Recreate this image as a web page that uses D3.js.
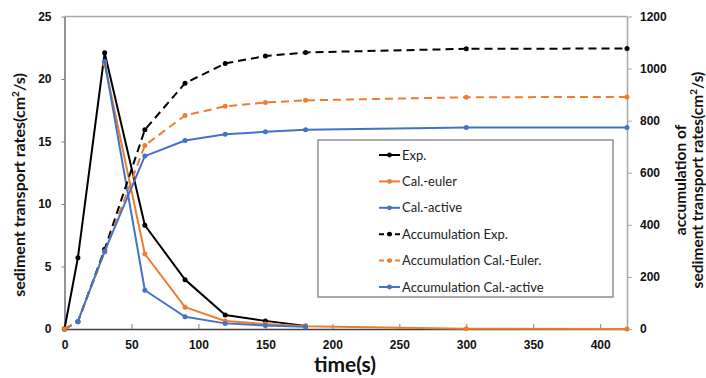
<!DOCTYPE html>
<html><head><meta charset="utf-8">
<script src="https://cdn.jsdelivr.net/npm/d3@7/dist/d3.min.js"></script>
<style>body{margin:0;background:#fff;} svg{display:block;font-family:Lato,"Open Sans",sans-serif;}</style>
</head><body><svg id="c" width="706" height="378"></svg>
<script>
const timeAll = [0, 10, 30, 60, 90, 120, 150, 180, 300, 420];
const expTime = [0, 10, 30, 60, 90, 120, 150, 180];
const expRate = [0, 5.7, 22.1, 8.3, 3.95, 1.12, 0.65, 0.25];
const eulerTime = [30, 60, 90, 120, 150, 180, 300, 420];
const eulerRate = [21.2, 6.0, 1.75, 0.64, 0.4, 0.22, 0.02, 0.0];
const activeTime = [30, 60, 90, 120, 150, 180];
const activeRate = [21.4, 3.1, 0.98, 0.45, 0.28, 0.17];
const accExp = [0, 28, 306, 765, 944, 1020, 1048, 1062, 1076, 1077];
const accEuler = [0, 29, 296, 705, 820, 855, 870, 878, 890, 891];
const accActiveTime = [10, 30, 60, 90, 120, 150, 180, 300, 420];
const accActive = [29, 299, 664, 724, 748, 757, 765, 774, 774];
const xTicks = [0, 50, 100, 150, 200, 250, 300, 350, 400];
const yLeftTicks = [0, 5, 10, 15, 20, 25];
const yRightTicks = [0, 200, 400, 600, 800, 1000, 1200];
const legendLabels = ["Exp.", "Cal.-euler", "Cal.-active", "Accumulation Exp.", "Accumulation Cal.-Euler.", "Accumulation Cal.-active"];

const svg = d3.select("#c");
const L = 64.5, R = 627, T = 16.5, B = 329;
const x = d3.scaleLinear().domain([0, 420]).range([L, R]);
const yL = d3.scaleLinear().domain([0, 25]).range([B, T]);
const yR = d3.scaleLinear().domain([0, 1200]).range([B, T]);

const black = "#000000", orange = "#ED7D31", blue = "#4472C4";

// frame
svg.append("line").attr("x1", L).attr("x2", R).attr("y1", T).attr("y2", T).attr("stroke", "#a6a6a6").attr("stroke-width", 1.3);

// axes
const gx = svg.append("g").attr("transform", `translate(0,${B})`)
  .call(d3.axisBottom(x).tickValues(xTicks).tickSizeInner(-5).tickSizeOuter(0).tickPadding(11));
gx.select(".domain").attr("stroke", "#404040").attr("stroke-width", 1.3);
gx.selectAll(".tick line").attr("stroke", "#808080");
gx.selectAll("text").attr("font-size", 12).attr("font-weight", "bold").attr("fill", "#111");

const gl = svg.append("g").attr("transform", `translate(${L},0)`)
  .call(d3.axisLeft(yL).tickValues(yLeftTicks).tickSizeInner(3).tickSizeOuter(0).tickPadding(10));
gl.select(".domain").attr("stroke", "#595959").attr("stroke-width", 1.3);
gl.selectAll(".tick line").attr("stroke", "#808080");
gl.selectAll("text").attr("font-size", 12).attr("font-weight", "bold").attr("fill", "#111");

const gr = svg.append("g").attr("transform", `translate(${R},0)`)
  .call(d3.axisRight(yR).tickValues(yRightTicks).tickFormat(d3.format("d")).tickSizeInner(5).tickSizeOuter(0).tickPadding(8));
gr.select(".domain").attr("stroke", "#a6a6a6").attr("stroke-width", 1.5);
gr.selectAll(".tick line").attr("stroke", "#a6a6a6");
gr.selectAll("text").attr("font-size", 12).attr("font-weight", "bold").attr("fill", "#111");

// series
function series(xs, ys, yScale, color, dash) {
  const pts = xs.map((t, i) => [t, ys[i]]);
  const line = d3.line().x(d => x(d[0])).y(d => yScale(d[1]));
  svg.append("path").datum(pts).attr("d", line).attr("fill", "none")
    .attr("stroke", color).attr("stroke-width", 2).attr("stroke-dasharray", dash || null)
    .attr("stroke-linejoin", "round");
  svg.append("g").selectAll("circle").data(pts).join("circle")
    .attr("cx", d => x(d[0])).attr("cy", d => yScale(d[1])).attr("r", 2.5).attr("fill", color);
}
series(expTime, expRate, yL, black);
series(eulerTime, eulerRate, yL, orange);
series(activeTime, activeRate, yL, blue);
series(timeAll, accExp, yR, black, "8,5");
series(timeAll, accEuler, yR, orange, "8,5");
series(accActiveTime, accActive, yR, blue);

// legend
const lg = svg.append("g");
lg.append("rect").attr("x", 318).attr("y", 140).attr("width", 295).attr("height", 157)
  .attr("fill", "#fff").attr("stroke", "#7f7f7f").attr("stroke-width", 1.3);
const lColors = [black, orange, blue, black, orange, blue];
const lDash = [null, null, null, "5,3", "5,3", null];
legendLabels.forEach((lab, i) => {
  const yy = 155 + i * 26.4;
  lg.append("line").attr("x1", 379).attr("x2", 400).attr("y1", yy).attr("y2", yy)
    .attr("stroke", lColors[i]).attr("stroke-width", 2).attr("stroke-dasharray", lDash[i]);
  lg.append("circle").attr("cx", 389.5).attr("cy", yy).attr("r", 2.4).attr("fill", lColors[i]);
  lg.append("text").attr("x", 402).attr("y", yy).attr("dy", "0.35em").attr("font-size", 13)
    .attr("fill", "#222").text(lab);
});

// titles
svg.append("text").attr("x", 345).attr("y", 372).attr("text-anchor", "middle")
  .attr("font-size", 21).attr("font-weight", "bold").attr("fill", "#111").text("time(s)");
svg.append("text").attr("transform", "translate(25,185) rotate(-90)").attr("text-anchor", "middle")
  .attr("font-size", 16).attr("font-weight", "bold").attr("fill", "#111")
  .html('sediment transport rates(cm<tspan baseline-shift="super" font-size="10">2</tspan>/s)');
const rt = svg.append("text").attr("transform", "translate(686,180) rotate(-90)").attr("text-anchor", "middle")
  .attr("font-size", 15.5).attr("font-weight", "bold").attr("fill", "#111");
rt.append("tspan").attr("x", 0).attr("y", 0).text("accumulation of");
rt.append("tspan").attr("x", 0).attr("y", 16.5).html('sediment transport rates(cm<tspan baseline-shift="super" font-size="10">2</tspan>/s)');
</script></body></html>
